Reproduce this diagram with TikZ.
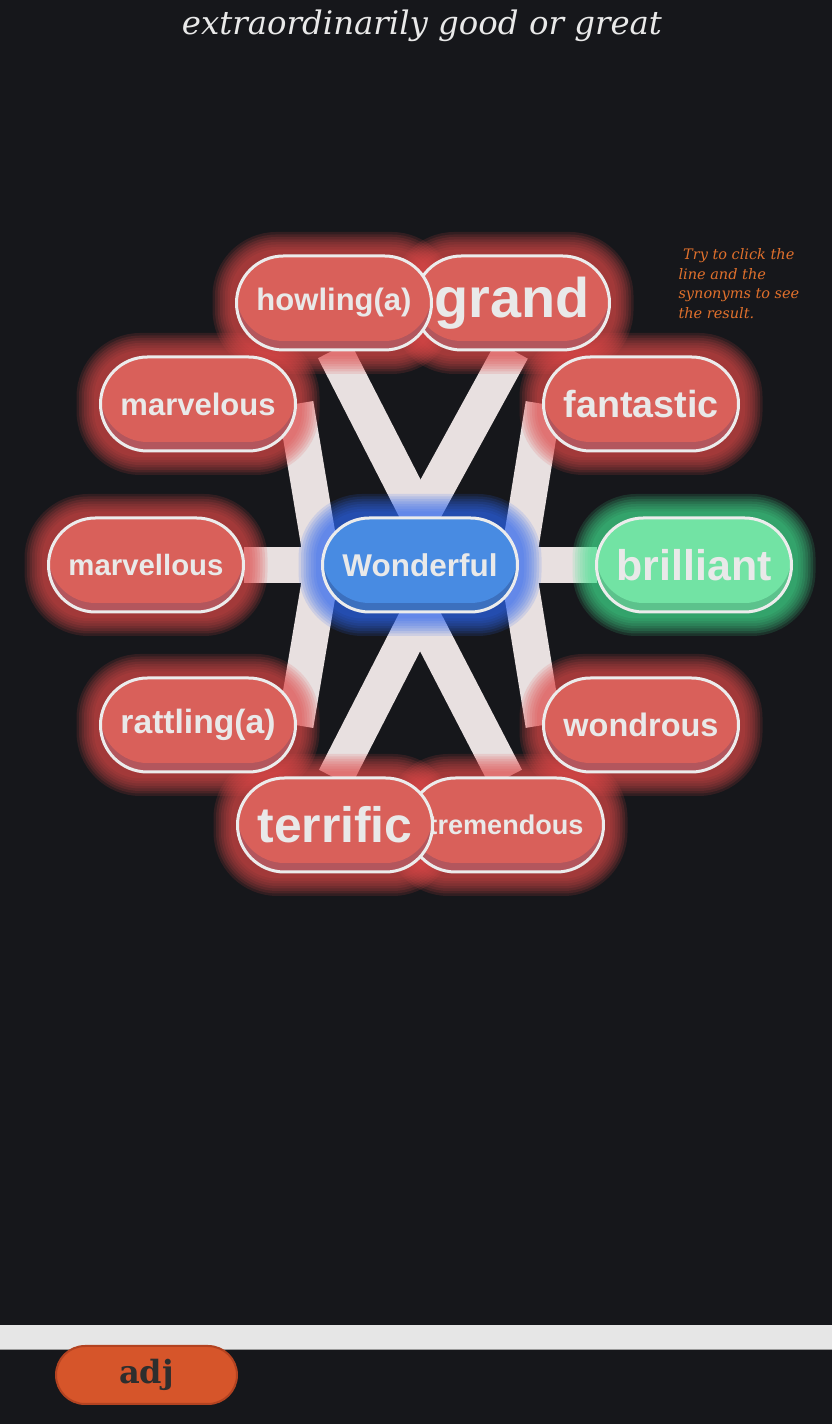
\documentclass[tikz,border=0pt]{standalone}
\usepackage{fontspec}
\setmainfont{DejaVu Serif}
\setsansfont{Liberation Sans}
\usetikzlibrary{positioning}
\definecolor{bgdark}{HTML}{16171B}
\definecolor{edge}{HTML}{ECECEC}
\definecolor{wordtxt}{HTML}{E9E9E9}
\definecolor{synred}{HTML}{D9605A}
\definecolor{synredlow}{HTML}{B3565D}
\definecolor{hubblue}{HTML}{488BE2}
\definecolor{hubbluelow}{HTML}{3C70BE}
\definecolor{pickgreen}{HTML}{72E3A4}
\definecolor{pickgreenlow}{HTML}{5CC28C}
\definecolor{glowred}{HTML}{E04A4A}
\definecolor{glowblue}{HTML}{2E66F0}
\definecolor{glowgreen}{HTML}{44E090}
\definecolor{barwhite}{HTML}{E8E0E0}
\definecolor{hintorange}{HTML}{E0702C}
\definecolor{band}{HTML}{E6E6E6}
\definecolor{bandedge}{HTML}{9A9A9A}
\definecolor{adjorange}{HTML}{D6552A}
\definecolor{adjedge}{HTML}{B34321}
\definecolor{adjtext}{HTML}{2E2E2E}
\pgfdeclarelayer{bglayer}
\pgfdeclarelayer{barlayer}
\pgfdeclarelayer{glowlayer}
\pgfsetlayers{bglayer,barlayer,glowlayer,main}
\tikzset{
  pill/.style 2 args={rectangle, rounded corners=47pt, minimum width=195pt, minimum height=94pt,
    inner sep=0pt, outer sep=0pt, draw=edge, line width=3pt, fill=#2, text=wordtxt, font=\sffamily\bfseries,
    path picture={\fill[#1, rounded corners=47pt] ([yshift=9pt]path picture bounding box.south west)
      rectangle ([yshift=9pt]path picture bounding box.north east);}},
  syn/.style={pill={synred}{synredlow}},
  hub/.style={pill={hubblue}{hubbluelow}},
  pick/.style={pill={pickgreen}{pickgreenlow}},
  bar/.style={line width=36pt, draw=barwhite},
}
\newcommand{\fitw}[1]{\resizebox{155pt}{!}{#1}}
\newcommand{\halo}[2]{%
  \foreach \w in {48,43,38,33,28,23,18,13}
    \draw[draw=#2, line width=\w pt, opacity=0.14, rounded corners=40pt] (#1.south west) rectangle (#1.north east);}

\begin{document}
\begin{tikzpicture}[x=1pt,y=1pt,on grid]
  \begin{pgfonlayer}{bglayer}
    \fill[bgdark] (0,0) rectangle (832,1424);
  \end{pgfonlayer}
  \useasboundingbox (0,0) rectangle (832,1424);

  \node (title) [anchor=base, text=wordtxt] at (422,1389) {\resizebox{480pt}{!}{\itshape extraordinarily good or great}};
  \node (hint) [anchor=north west, align=left, text=hintorange, font=\itshape\fontsize{14.5}{19.5}\selectfont] at (675,1179)
    {\ Try to click the\\line and the\\synonyms to see\\the result.};

  \node[hub] (W) at (420,859) {\fitw{Wonderful}};
  \node[syn] (marvellous) [left=274pt of W] {\fitw{marvellous}};
  \node[pick] (brilliant) [right=274pt of W] {\fitw{brilliant}};
  \node[syn] (marvelous) [above left=161pt and 222pt of W] {\fitw{marvelous}};
  \node[syn] (fantastic) [above right=161pt and 221pt of W] {\fitw{fantastic}};
  \node[syn] (rattling) [below left=160pt and 222pt of W] {\fitw{rattling(a)}};
  \node[syn] (wondrous) [below right=160pt and 221pt of W] {\fitw{wondrous}};
  \node[syn] (grand) [above right=262pt and 92pt of W] {\fitw{grand}};
  \node[syn] (howling) [above left=262pt and 86pt of W] {\fitw{howling(a)}};
  \node[syn] (tremendous) [below right=260pt and 86pt of W] {\fitw{tremendous}};
  \node[syn] (terrific) [below left=260pt and 85pt of W] {\fitw{terrific}};

  \begin{pgfonlayer}{barlayer}
    \draw[bar] (W.west) -- (marvellous.east);
    \draw[bar] (W.east) -- (brilliant.west);
    \draw[bar] (W.west) -- (marvelous.east);
    \draw[bar] (W.west) -- (rattling.east);
    \draw[bar] (W.east) -- (fantastic.west);
    \draw[bar] (W.east) -- (wondrous.west);
    \draw[bar] (W.north) -- (howling.south);
    \draw[bar] (W.north) -- (grand.south);
    \draw[bar] (W.south) -- (terrific.north);
    \draw[bar] (W.south) -- (tremendous.north);
  \end{pgfonlayer}

  \begin{pgfonlayer}{glowlayer}
    \foreach \n in {marvellous,marvelous,fantastic,rattling,wondrous,grand,howling,tremendous,terrific}
      \halo{\n}{glowred};
    \halo{W}{glowblue}
    \halo{brilliant}{glowgreen}
  \end{pgfonlayer}

  \fill[band] (0,74) rectangle (832,99);
  \draw[bandedge, line width=1pt] (0,74.5) -- (832,74.5);
  \node (adj) [fill=adjorange, draw=adjedge, line width=2pt, rounded corners=29pt, minimum width=181pt, minimum height=58pt,
    inner sep=0pt, text=adjtext, font=\bfseries\fontsize{32}{32}\selectfont] at (146.5,49) {adj};
\end{tikzpicture}
\end{document}
